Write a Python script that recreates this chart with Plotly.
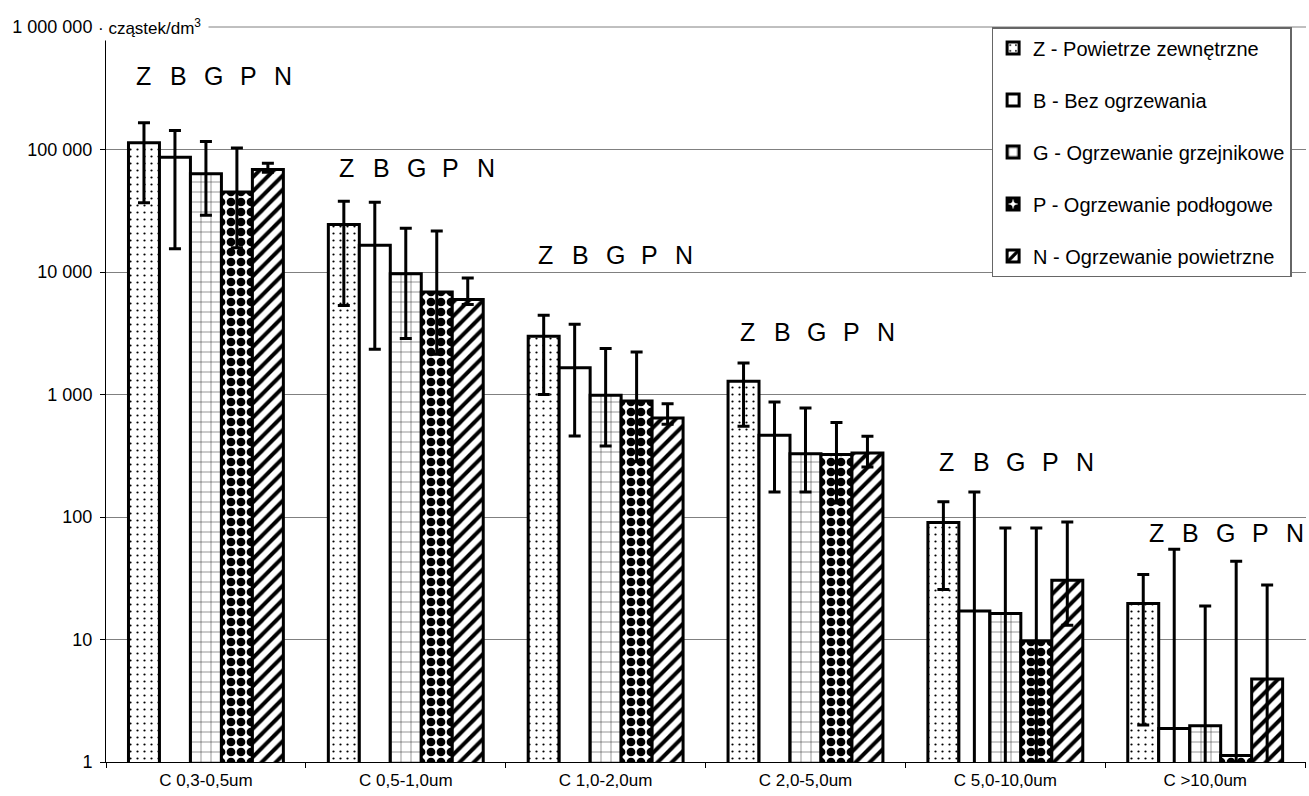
import math
import plotly.graph_objects as go

categories = ["C 0,3-0,5um", "C 0,5-1,0um", "C 1,0-2,0um", "C 2,0-5,0um", "C 5,0-10,0um", "C >10,0um"]

names = ["Z - Powietrze zewnętrzne", "B - Bez ogrzewania", "G - Ogrzewanie grzejnikowe",
         "P - Ogrzewanie podłogowe", "N - Ogrzewanie powietrzne"]
letters = ["Z", "B", "G", "P", "N"]

Z = [113500, 24400, 2985, 1282, 90, 19.7]
Z_hi = [165000, 37800, 4430, 1808, 133, 34]
Z_lo = [36700, 5340, 1000, 550, 25.6, 2.0]

B = [86500, 16500, 1657, 464, 17.1, 1.88]
B_hi = [143000, 37100, 3740, 868, 160, 54.6]
B_lo = [15500, 2340, 459, 160, 0, 0]

G = [63400, 9690, 985, 329, 16.3, 1.98]
G_hi = [116000, 22800, 2370, 776, 81.5, 18.8]
G_lo = [29000, 2860, 380, 160, 0, 0]

P = [44900, 6860, 885, 323, 9.7, 1.13]
P_hi = [103000, 21600, 2220, 590, 81.5, 43.6]
P_lo = [15800, 2130, 282, 130, 0, 0]

N = [68700, 5970, 643, 333, 30.5, 4.75]
N_hi = [77300, 8920, 842, 456, 91, 27.8]
N_lo = [65300, 5440, 571, 256, 13.1, 0]

y_tickvals = [1, 10, 100, 1000, 10000, 100000, 1000000]
y_ticktext = ["1", "10", "100", "1 000", "10 000", "100 000", "1 000 000"]

series = [(Z, Z_hi, Z_lo), (B, B_hi, B_lo), (G, G_hi, G_lo), (P, P_hi, P_lo), (N, N_hi, N_lo)]

patterns = [
    dict(shape=".", size=7, solidity=0.08, fgcolor="black", bgcolor="white", fillmode="replace"),
    dict(shape="", fgcolor="black", bgcolor="white"),
    dict(shape="+", size=10, solidity=0.08, fgcolor="black", bgcolor="white", fillmode="replace"),
    dict(shape=".", size=10, solidity=0.6, fgcolor="black", bgcolor="white", fillmode="replace"),
    dict(shape="/", size=10, solidity=0.4, fgcolor="black", bgcolor="white", fillmode="replace"),
]

W, H = 1309, 796
ML, MR, MT, MB = 106, 3, 27, 34
plot_w = W - ML - MR
bargap = 0.225
bar_px = plot_w / len(categories) * (1 - bargap) / len(series)

fig = go.Figure()
for i, ((vals, hi, lo), name) in enumerate(zip(series, names)):
    plus = [h - v for h, v in zip(hi, vals)]
    minus = [v - max(l, 0.3) for l, v in zip(lo, vals)]
    fig.add_trace(go.Bar(
        x=categories, y=vals, name=name, legendgroup=name,
        marker=dict(color="white", line=dict(color="black", width=3), pattern=patterns[i]),
        error_y=dict(type="data", symmetric=False, array=plus, arrayminus=minus,
                     color="black", thickness=3, width=6),
    ))

# letter labels above each group (layout positions)
letter_y = [400000, 70000, 13650, 3215, 280, 74]
letter_dx = [0, 3, 2, 4, 3, 13]
letter_spacing = 34.7
annotations = []
for gi, cat in enumerate(categories):
    for li, let in enumerate(letters):
        annotations.append(dict(
            x=cat, y=math.log10(letter_y[gi]), xref="x", yref="y",
            text=let, showarrow=False,
            xshift=-2 * bar_px + li * letter_spacing + letter_dx[gi],
            font=dict(size=25, color="black"), xanchor="center", yanchor="middle"))

annotations.append(dict(
    x=-0.009, y=1, xref="paper", yref="paper", xanchor="left", yanchor="middle",
    text="· cząstek/dm<sup>3</sup> ", showarrow=False, bgcolor="white",
    font=dict(size=17, color="black"), borderpad=2))

fig.update_layout(
    width=W, height=H,
    margin=dict(l=ML, r=MR, t=MT, b=MB),
    paper_bgcolor="white", plot_bgcolor="white",
    font=dict(family="Liberation Sans, Arial, sans-serif", color="black"),
    barmode="group", bargap=bargap, bargroupgap=0,
    showlegend=True,
    legend=dict(x=0.738, y=1.0, xanchor="left", yanchor="top",
                bgcolor="white", bordercolor="#666666", borderwidth=1.5,
                font=dict(size=20, color="black"),
                traceorder="grouped", tracegroupgap=23, itemwidth=30),
    annotations=annotations,
    shapes=[dict(type="line", xref="paper", yref="paper", x0=0, x1=1, y0=1, y1=1,
                 line=dict(color="#808080", width=1), layer="below")],
)

fig.update_xaxes(
    type="category", showgrid=False, showline=True, linecolor="black", linewidth=1,
    ticks="outside", tickson="boundaries", ticklen=5, tickcolor="black",
    tickfont=dict(size=17), zeroline=False, ticklabelstandoff=3,
)
fig.update_yaxes(
    type="log", range=[0, 6], showgrid=True, gridcolor="#808080", gridwidth=1,
    showline=True, linecolor="black", linewidth=1,
    ticks="outside", ticklen=5, tickcolor="black",
    tickvals=y_tickvals, ticktext=y_ticktext, tickfont=dict(size=18), zeroline=False,
    ticklabelstandoff=4,
)

fig.write_html("out.html", config={"displayModeBar": False},
               post_script="document.body.style.margin='0';")
